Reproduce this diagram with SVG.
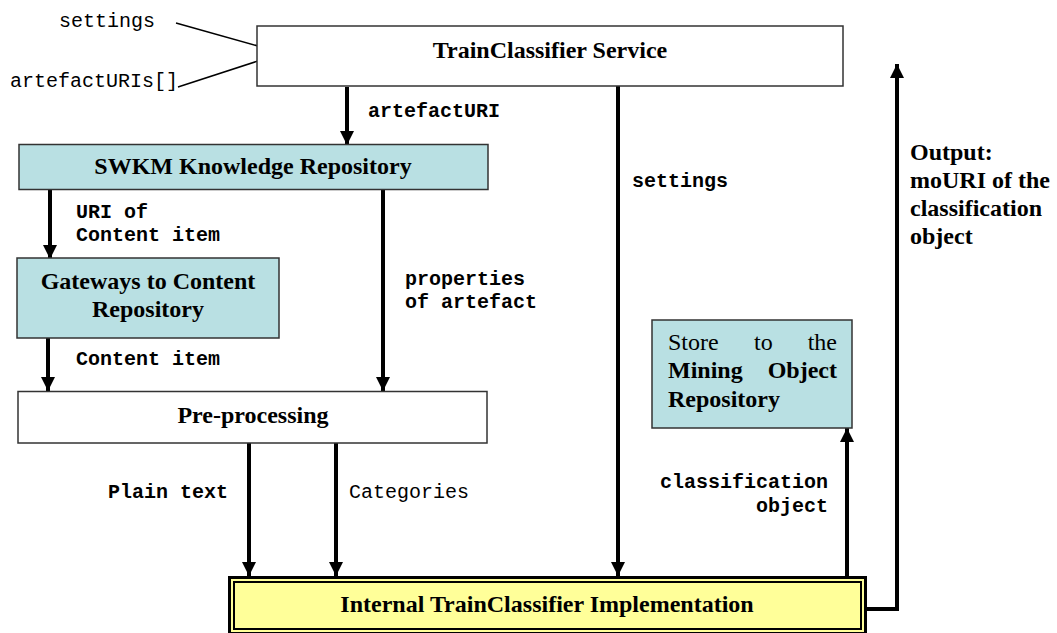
<svg xmlns="http://www.w3.org/2000/svg" width="1057" height="633" viewBox="0 0 1057 633">
<style>
.box{fill:#fff;stroke:#333;stroke-width:1.5}
.teal{fill:#B9E0E3;stroke:#333;stroke-width:1.5}
.t{font-family:"Liberation Serif","Times New Roman",serif;font-size:24px;font-weight:bold;fill:#000}
.tr{font-family:"Liberation Serif","Times New Roman",serif;font-size:24px;fill:#000}
.m{font-family:"Liberation Mono","Courier New",monospace;font-size:20px;fill:#000}
.mb{font-family:"Liberation Mono","Courier New",monospace;font-size:20px;font-weight:bold;fill:#000}
.arr{stroke:#000;stroke-width:4;fill:none;marker-end:url(#ah)}
.thin{stroke:#000;stroke-width:1.5;fill:none}
</style>
<defs>
<marker id="ah" markerUnits="userSpaceOnUse" markerWidth="14" markerHeight="14" refX="14" refY="7" orient="auto">
<path d="M0,0 L14,7 L0,14 z" fill="#000"/>
</marker>
</defs>
<rect width="1057" height="633" fill="#fff"/>

<g id="connectors">
<line class="thin" x1="176" y1="23" x2="258" y2="46"/>
<line class="thin" x1="178" y1="87" x2="258" y2="61"/>
<line class="arr" x1="347" y1="87" x2="347" y2="145"/>
<line class="arr" x1="50" y1="189" x2="50" y2="259"/>
<line class="arr" x1="383" y1="189" x2="383" y2="391"/>
<line class="arr" x1="48" y1="338" x2="48" y2="391"/>
<line class="arr" x1="249" y1="443" x2="249" y2="576"/>
<line class="arr" x1="336" y1="443" x2="336" y2="576"/>
<line class="arr" x1="618" y1="86" x2="618" y2="576"/>
<line class="arr" x1="847" y1="576" x2="847" y2="428"/>
<polyline class="arr" points="866,609 897,609 897,64"/>
<text class="m" x="59" y="27">settings</text>
<text class="m" x="10" y="87">artefactURIs[]</text>
<text class="mb" x="368" y="117">artefactURI</text>
<text class="mb" x="76" y="218">URI of</text>
<text class="mb" x="76" y="241">Content item</text>
<text class="mb" x="405" y="285">properties</text>
<text class="mb" x="405" y="308">of artefact</text>
<text class="mb" x="76" y="365">Content item</text>
<text class="mb" x="108" y="498">Plain text</text>
<text class="m" x="349" y="498">Categories</text>
<text class="mb" x="632" y="187">settings</text>
<text class="mb" x="828" y="488" text-anchor="end">classification</text>
<text class="mb" x="828" y="512" text-anchor="end">object</text>
<text class="t" x="910" y="160">Output:</text>
<text class="t" x="910" y="188">moURI of the</text>
<text class="t" x="910" y="216">classification</text>
<text class="t" x="910" y="244">object</text>
</g>

<g id="trainclassifier-service">
<rect class="box" x="257" y="26" width="586" height="60"/>
<text class="t" x="550" y="58" text-anchor="middle">TrainClassifier Service</text>
</g>

<g id="swkm">
<rect class="teal" x="19" y="144.5" width="469" height="45"/>
<text class="t" x="253" y="174" text-anchor="middle">SWKM Knowledge Repository</text>
</g>

<g id="gateways">
<rect class="teal" x="17" y="258" width="262" height="80"/>
<text class="t" x="148" y="289" text-anchor="middle">Gateways to Content</text>
<text class="t" x="148" y="317" text-anchor="middle">Repository</text>
</g>

<g id="preprocessing">
<rect class="box" x="18" y="391.5" width="469" height="51.5"/>
<text class="t" x="253" y="423" text-anchor="middle">Pre-processing</text>
</g>

<g id="store">
<rect class="teal" x="652" y="320" width="200" height="108"/>
<text class="tr" y="350"><tspan x="668">Store</tspan><tspan x="754">to</tspan><tspan x="837" text-anchor="end">the</tspan></text>
<text class="t" y="378"><tspan x="668">Mining</tspan><tspan x="837" text-anchor="end">Object</tspan></text>
<text class="t" x="668" y="407">Repository</text>
</g>

<g id="internal">
<rect x="229.5" y="577.5" width="636" height="56" fill="#FFFF99" stroke="#000" stroke-width="3"/>
<rect x="234" y="582" width="627" height="47" fill="none" stroke="#000" stroke-width="2"/>
<text class="t" x="547" y="612" text-anchor="middle">Internal TrainClassifier Implementation</text>
</g>
</svg>
